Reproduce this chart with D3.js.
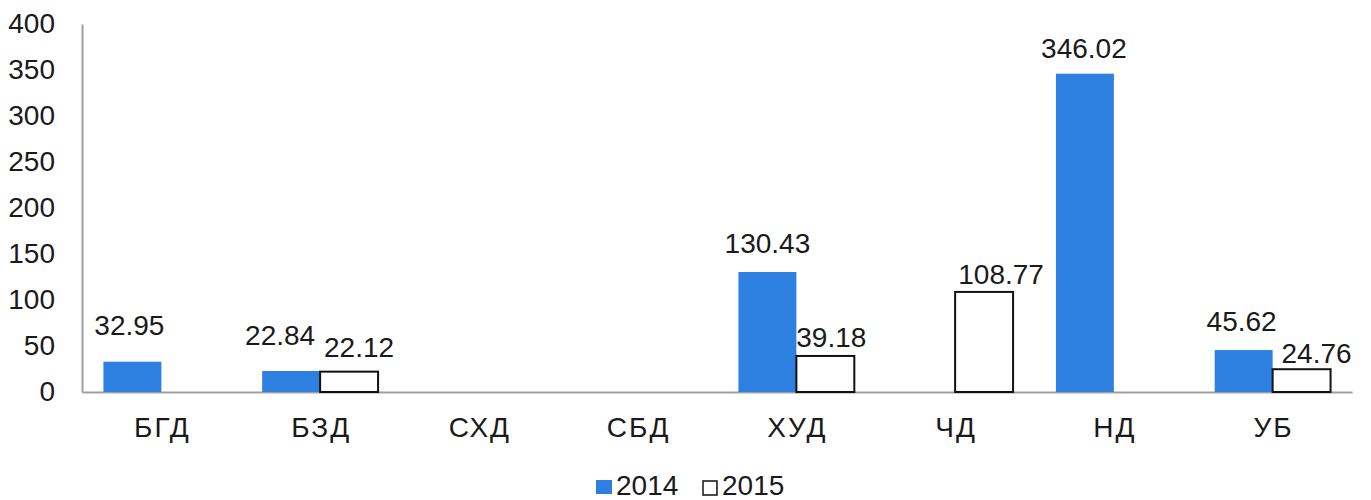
<!DOCTYPE html>
<html>
<head>
<meta charset="utf-8">
<script src="https://cdn.jsdelivr.net/npm/d3@7"></script>
<style>
  body { margin: 0; background: #fff; }
  text { font-family: "Liberation Sans", Arial, sans-serif; }
</style>
</head>
<body>
<div id="chart"></div>
<script>
/* Grouped bar chart, 2014 vs 2015 by district */

const categories = ["БГД", "БЗД", "СХД", "СБД", "ХУД", "ЧД", "НД", "УБ"];
const series2014 = [32.95, 22.84, null, null, 130.43, null, 346.02, 45.62];
const series2015 = [null, 22.12, null, null, 39.18, 108.77, null, 24.76];
const seriesNames = ["2014", "2015"];
const yTicks = [0, 50, 100, 150, 200, 250, 300, 350, 400];

const width = 1371,
      height = 500,
      margin = ({ top: 24, right: 19, bottom: 108, left: 82 });

const fontSize = 28;
const blue = "#2e80e0";

// label nudges (dx from bar centre, gap above bar top), as placed in the original
const labelNudge = {
    "БГД-2014": [-3, 27],
    "БЗД-2014": [-11, 26],
    "БЗД-2015": [10, 15],
    "ХУД-2014": [0, 19],
    "ХУД-2015": [6, 9],
    "ЧД-2015": [17, 8],
    "НД-2014": [-1, 16],
    "УБ-2014": [-2, 19],
    "УБ-2015": [15, 6]
};

let svg = d3.select("#chart")
    .append("svg")
    .attr("width", width)
    .attr("height", height)
    .attr("viewBox", [0, 0, width, height]);

let x = d3.scaleBand()
    .domain(categories)
    .range([margin.left, width - margin.right])
    .paddingInner(0.27)
    .paddingOuter(0.135);

let x1 = d3.scaleBand()
    .domain(seriesNames)
    .range([0, x.bandwidth()]);

let y = d3.scaleLinear()
    .domain([0, 400])
    .range([height - margin.bottom, margin.top]);

// y axis labels + line
let yAxis = svg.append("g")
    .attr("transform", `translate(${margin.left},0)`)
    .call(d3.axisLeft(y).tickValues(yTicks).tickSize(0).tickPadding(27));
yAxis.select(".domain").attr("stroke", "#a0a0a0").attr("stroke-width", 2);
yAxis.selectAll("text")
    .attr("font-size", fontSize)
    .attr("font-family", "'Liberation Sans', Arial, sans-serif")
    .attr("fill", "#1a1a1a");

// x axis
let xAxis = svg.append("g")
    .attr("transform", `translate(0,${y(0)})`)
    .call(d3.axisBottom(x).tickSize(0).tickPadding(25));
xAxis.select(".domain").attr("stroke", "#a0a0a0").attr("stroke-width", 2);
xAxis.selectAll("text")
    .attr("font-size", fontSize)
    .attr("font-family", "'Liberation Sans', Arial, sans-serif")
    .attr("letter-spacing", 2)
    .attr("dx", 1)
    .attr("fill", "#1a1a1a");

// flatten rows for drawing
let rows = [];
categories.forEach((c, i) => {
    rows.push({ cat: c, key: "2014", value: series2014[i] });
    rows.push({ cat: c, key: "2015", value: series2015[i] });
});
rows = rows.filter(d => d.value !== null);

let bar = svg.selectAll(".bar")
    .data(rows)
    .join("g")
    .attr("class", "bar");

bar.append("rect")
    .attr("x", d => x(d.cat) + x1(d.key))
    .attr("width", x1.bandwidth())
    .attr("y", d => y(d.value))
    .attr("height", d => y(0) - y(d.value))
    .attr("fill", d => d.key === "2014" ? blue : "#fff")
    .attr("stroke", d => d.key === "2014" ? "none" : "#111")
    .attr("stroke-width", 2);

bar.append("text")
    .text(d => d.value.toFixed(2))
    .attr("x", d => x(d.cat) + x1(d.key) + x1.bandwidth() / 2 + (labelNudge[d.cat + "-" + d.key] || [0, 20])[0])
    .attr("y", d => y(d.value) - (labelNudge[d.cat + "-" + d.key] || [0, 20])[1])
    .attr("text-anchor", "middle")
    .attr("font-size", fontSize)
    .attr("fill", "#1a1a1a");

// legend
let legend = svg.append("g")
    .attr("transform", `translate(596,480)`);

let item = legend.selectAll("g")
    .data(seriesNames)
    .join("g")
    .attr("transform", (d, i) => `translate(${i * 106},0)`);

item.append("rect")
    .attr("x", d => d === "2014" ? 0 : 1)
    .attr("y", d => d === "2014" ? 0 : 1)
    .attr("width", d => d === "2014" ? 16 : 14)
    .attr("height", 14)
    .attr("fill", d => d === "2014" ? blue : "#fff")
    .attr("stroke", d => d === "2014" ? "none" : "#111")
    .attr("stroke-width", 1.5);

item.append("text")
    .text(d => d)
    .attr("x", 20)
    .attr("y", 15)
    .attr("font-size", fontSize)
    .attr("fill", "#1a1a1a");
</script>
</body>
</html>
